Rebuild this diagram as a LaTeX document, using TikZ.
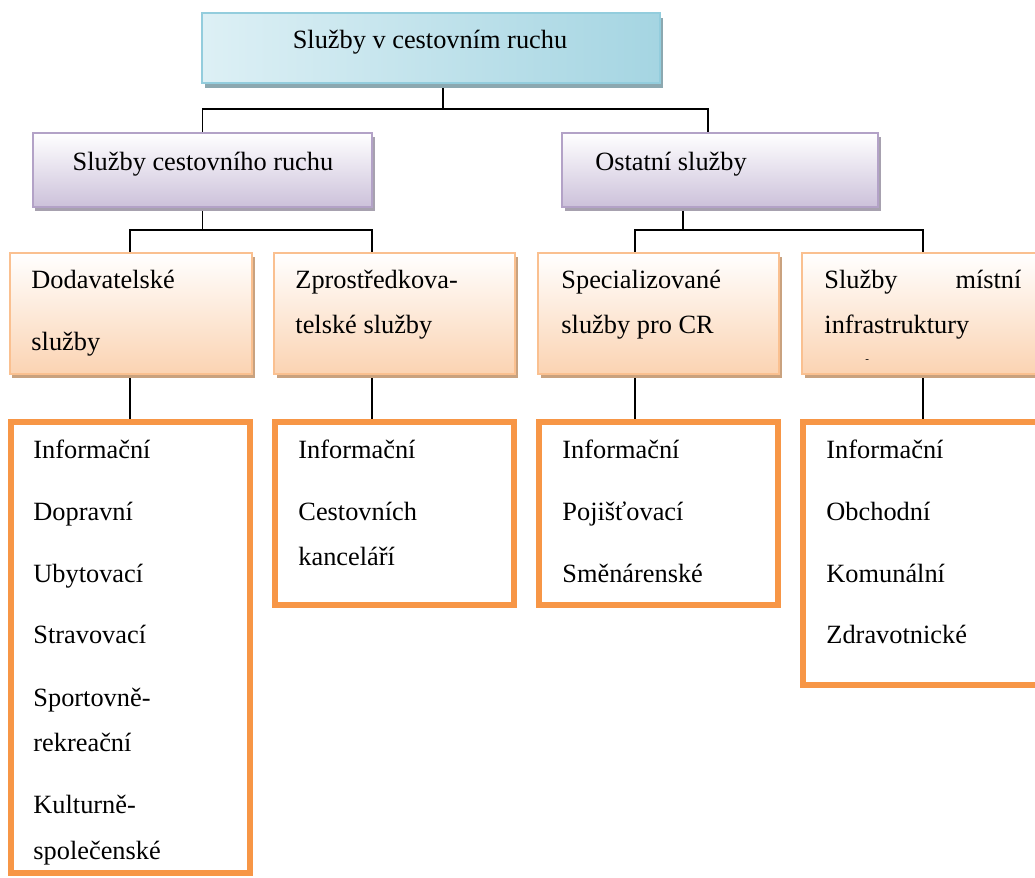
\documentclass[tikz,border=0pt]{standalone}
\usepackage{fontspec}
\setmainfont{Liberation Serif}
\usetikzlibrary{shadows,backgrounds}
\definecolor{modraCara}{HTML}{93CDDD}
\definecolor{modraSv}{HTML}{DDF0F5}
\definecolor{modraTm}{HTML}{A5D5E2}
\definecolor{modraStin}{HTML}{8CA8B0}
\definecolor{fialCara}{HTML}{B3A2C7}
\definecolor{fialTm}{HTML}{CCC1DA}
\definecolor{fialStin}{HTML}{A7A1AF}
\definecolor{oranzCara}{HTML}{FAC090}
\definecolor{oranzTm}{HTML}{FBD3B2}
\definecolor{oranzStin}{HTML}{C9A27F}
\definecolor{oranzSilna}{HTML}{F79646}
\newcommand{\pxd}{0.016cm}
\begin{document}
\begin{tikzpicture}[x=0.016cm, y=-0.016cm,
    box/.style={inner sep=0, outer sep=0, anchor=north west},
    hlava/.style={box, draw=modraCara, line width=0.9pt, left color=modraSv, right color=modraTm,
        drop shadow={fill=modraStin, opacity=1, shadow xshift=0.04cm, shadow yshift=-0.08cm}},
    skupina/.style={box, draw=fialCara, line width=0.9pt, top color=white, bottom color=fialTm,
        drop shadow={fill=fialStin, opacity=1, shadow xshift=0.04cm, shadow yshift=-0.065cm}},
    druh/.style={box, draw=oranzCara, line width=0.9pt, top color=white, bottom color=oranzTm,
        drop shadow={fill=oranzStin, opacity=1, shadow xshift=0.04cm, shadow yshift=-0.065cm}},
    seznam/.style={box, draw=oranzSilna, line width=2.7pt, fill=white},
    txt/.style={inner sep=0, anchor=base west, font=\fontsize{12}{14}\selectfont},
    spoj/.style={draw=black, line width=0.8pt}]
    \useasboundingbox (0,0) rectangle (1035,877);
    \clip (0,0) rectangle (1035,877);

    \node[hlava, minimum width=458*\pxd, minimum height=70*\pxd] (sluzby) at (202,13) {};
        \node[txt, anchor=base] (tsluzby) at (430,48) {Služby v cestovním ruchu};

    \node[skupina, minimum width=339*\pxd, minimum height=74*\pxd] (scr) at (33,133) {};
        \node[txt, anchor=base] (tscr) at (203,170) {Služby cestovního ruchu};
    \node[skupina, minimum width=316*\pxd, minimum height=74*\pxd] (ost) at (562,133) {};
        \node[txt, anchor=base] (tost) at (671,170) {Ostatní služby};

    \node[druh, minimum width=242*\pxd, minimum height=121*\pxd] (dod) at (10,253) {};
        \node[txt] (tdod1) at (31,288) {Dodavatelské};
        \node[txt] (tdod2) at (31,350) {služby};
    \node[druh, minimum width=241*\pxd, minimum height=121*\pxd] (zpr) at (274,253) {};
        \node[txt] (tzpr1) at (295,288) {Zprostředkova-};
        \node[txt] (tzpr2) at (295,333) {telské služby};
    \node[druh, minimum width=241*\pxd, minimum height=121*\pxd] (spe) at (538,253) {};
        \node[txt] (tspe1) at (561,288) {Specializované};
        \node[txt] (tspe2) at (561,333) {služby pro CR};
    \node[druh, minimum width=242*\pxd, minimum height=121*\pxd] (mis) at (802,253) {};
        \node[txt, text width=197*\pxd] (tmis1) at (824,288) {Služby\hfill místní};
        \node[txt] (tmis2) at (824,333) {infrastruktury};
        \node[txt, font=\fontsize{5}{5}\selectfont] (tmis3) at (865,362) {-};

    \node[seznam, minimum width=239*\pxd, minimum height=451*\pxd] (sdod) at (11,422) {};
        \node[txt] (sdod1) at (33,458) {Informační};
        \node[txt] (sdod2) at (33,520) {Dopravní};
        \node[txt] (sdod3) at (33,582) {Ubytovací};
        \node[txt] (sdod4) at (33,643) {Stravovací};
        \node[txt] (sdod5) at (33,706) {Sportovně-};
        \node[txt] (sdod6) at (33,751) {rekreační};
        \node[txt] (sdod7) at (33,813) {Kulturně-};
        \node[txt] (sdod8) at (33,859) {společenské};
    \node[seznam, minimum width=239*\pxd, minimum height=183*\pxd] (szpr) at (275,422) {};
        \node[txt] (szpr1) at (298,458) {Informační};
        \node[txt] (szpr2) at (298,520) {Cestovních};
        \node[txt] (szpr3) at (298,565) {kanceláří};
    \node[seznam, minimum width=239*\pxd, minimum height=183*\pxd] (sspe) at (539,422) {};
        \node[txt] (sspe1) at (562,458) {Informační};
        \node[txt] (sspe2) at (562,520) {Pojišťovací};
        \node[txt] (sspe3) at (562,582) {Směnárenské};
    \node[seznam, minimum width=240*\pxd, minimum height=263*\pxd] (smis) at (803,422) {};
        \node[txt] (smis1) at (826,458) {Informační};
        \node[txt] (smis2) at (826,520) {Obchodní};
        \node[txt] (smis3) at (826,582) {Komunální};
        \node[txt] (smis4) at (826,643) {Zdravotnické};

    \begin{pgfonlayer}{background}
        \coordinate (j0) at (443,109);
        \coordinate (j1) at (708,109);
        \draw[spoj] (j0 |- sluzby.south) -- (j0);
        \draw[spoj] (scr.north) |- (j0) -- (j1) -- (j1 |- ost.north);
        \coordinate (k1) at (130,230);
        \coordinate (k2) at (372,230);
        \draw[spoj] (scr.south) -- (scr.south |- k1);
        \draw[spoj] (k1 |- dod.north) -- (k1) -- (k2) -- (k2 |- zpr.north);
        \coordinate (m0) at (683,230);
        \coordinate (m1) at (635,230);
        \coordinate (m2) at (923,230);
        \draw[spoj] (m0 |- ost.south) -- (m0);
        \draw[spoj] (m1 |- spe.north) -- (m1) -- (m2) -- (m2 |- mis.north);
        \draw[spoj] (k1 |- dod.south) -- (k1 |- sdod.north);
        \draw[spoj] (k2 |- zpr.south) -- (k2 |- szpr.north);
        \draw[spoj] (m1 |- spe.south) -- (m1 |- sspe.north);
        \draw[spoj] (m2 |- mis.south) -- (m2 |- smis.north);
    \end{pgfonlayer}
\end{tikzpicture}
\end{document}
